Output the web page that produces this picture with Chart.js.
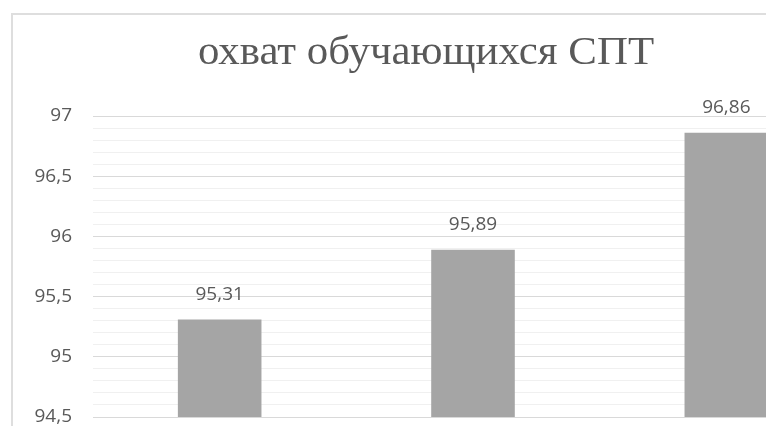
<!DOCTYPE html>
<html>
<head>
<meta charset="utf-8">
<script src="https://cdn.jsdelivr.net/npm/chart.js@4.4.1/dist/chart.umd.min.js"></script>
<style>
  html, body { margin: 0; padding: 0; background: #ffffff; }
  #wrap { position: relative; width: 766px; height: 426px; overflow: hidden; background: #fff; }
  #frame { position: absolute; left: 11px; top: 13px; width: 900px; height: 500px;
           border-left: 2px solid #dedede; border-top: 2px solid #dedede; pointer-events: none; }
  #c { position: absolute; left: 0; top: 0; }
</style>
</head>
<body>
<div id="wrap">
  <canvas id="c" width="900" height="460"></canvas>
  <div id="frame"></div>
</div>
<script>
const titleText = "охват обучающихся СПТ";
const categories = ["1", "2", "3"];
const values = [95.31, 95.89, 96.86];
const yMin = 94.5;
const yMax = 97;

const fmt = v => String(v).replace('.', ',');
const isMajor = v => Math.abs(v * 2 - Math.round(v * 2)) < 1e-6;

const titlePlugin = {
  id: 'titleDraw',
  afterDraw(chart) {
    const ctx = chart.ctx;
    ctx.save();
    ctx.translate(426, 64);
    ctx.scale(1.1, 1);
    ctx.font = '39px "Liberation Serif"';
    ctx.fillStyle = '#595959';
    ctx.textAlign = 'center';
    ctx.textBaseline = 'alphabetic';
    ctx.fillText(titleText, 0, 0);
    ctx.restore();
  }
};

const labelPlugin = {
  id: 'barLabels',
  afterDatasetsDraw(chart) {
    const ctx = chart.ctx;
    const meta = chart.getDatasetMeta(0);
    ctx.save();
    ctx.font = '19px "Open Sans"';
    ctx.fillStyle = '#595959';
    ctx.textAlign = 'center';
    ctx.textBaseline = 'middle';
    meta.data.forEach((bar, i) => {
      ctx.fillText(fmt(values[i]), bar.x, bar.y - 25);
    });
    ctx.restore();
  }
};

new Chart(document.getElementById('c'), {
  type: 'bar',
  data: {
    labels: categories,
    datasets: [{
      data: values,
      backgroundColor: '#a5a5a5',
      borderWidth: 0,
      categoryPercentage: 1,
      barPercentage: 0.33
    }]
  },
  options: {
    responsive: false,
    animation: false,
    events: [],
    layout: { padding: { left: 0, right: 47, top: 116, bottom: 43 } },
    plugins: { legend: { display: false }, title: { display: false }, tooltip: { enabled: false } },
    scales: {
      x: {
        ticks: { display: false },
        grid: { display: false },
        border: { display: false },
        afterFit(s) { s.height = 0; }
      },
      y: {
        min: yMin,
        max: yMax,
        afterFit(s) { s.width = 93; },
        ticks: {
          stepSize: 0.1,
          autoSkip: false,
          padding: 21,
          color: '#595959',
          font: { family: 'Open Sans', size: 19 },
          callback: v => isMajor(v) ? fmt(Math.round(v * 2) / 2) : ''
        },
        grid: {
          drawTicks: false,
          color: ctx => isMajor(ctx.tick.value) ? '#d9d9d9' : '#f0f0f0',
          lineWidth: 1
        },
        border: { display: false }
      }
    }
  },
  plugins: [titlePlugin, labelPlugin]
});
</script>
</body>
</html>
